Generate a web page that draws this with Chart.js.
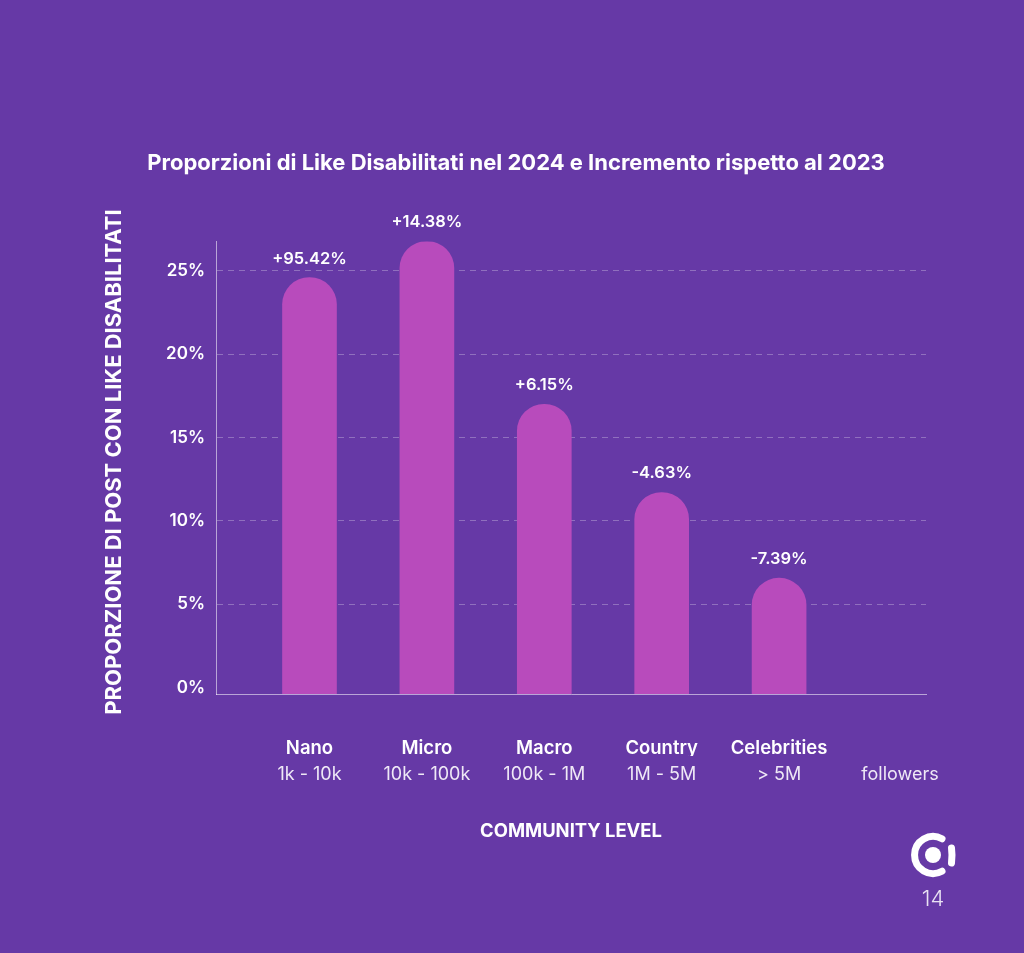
<!DOCTYPE html>
<html>
<head>
<meta charset="utf-8">
<script src="https://cdn.jsdelivr.net/npm/chart.js@4"></script>
<style>
  html, body { margin: 0; padding: 0; background: #6639a6; }
  #wrap { position: relative; width: 1024px; height: 953px; overflow: hidden; }
  canvas { position: absolute; left: 0; top: 0; }
  #logo { position: absolute; left: 900px; top: 825px; }
  #page { position: absolute; left: 903px; top: 885px; width: 60px; text-align: center; color: #e9e2f3; font: 300 22px Inter, sans-serif; }
</style>
</head>
<body>
<div id="wrap">
  <canvas id="chart" width="1024" height="953"></canvas>
  <svg id="logo" width="64" height="60" viewBox="900 825 64 60">
    <path d="M942 838.8 A18.5 18.5 0 1 0 942 871.2" fill="none" stroke="#fff" stroke-width="7" stroke-linecap="round"/>
    <path d="M951.5 848 Q952.5 855 951.5 863" fill="none" stroke="#fff" stroke-width="7" stroke-linecap="round"/>
    <circle cx="933" cy="855" r="8" fill="#fff"/>
  </svg>
  <div id="page">14</div>
</div>
<script>
const FONT = 'Inter, sans-serif';
const WHITE = '#ffffff', SOFT = '#efe9f6', BAR = '#b84bbc', LINE = 'rgba(255,255,255,0.55)', DASH = 'rgba(255,255,255,0.28)';

const levels = ['Nano', 'Micro', 'Macro', 'Country', 'Celebrities', ''];
const ranges = ['1k - 10k', '10k - 100k', '100k - 1M', '1M - 5M', '> 5M', 'followers'];
const shares = [24.6, 26.77, 17.0, 11.7, 6.56];
const changes = ['+95.42%', '+14.38%', '+6.15%', '-4.63%', '-7.39%'];
const yTicks = [0, 5, 10, 15, 20, 25];
const positions = [1, 2, 3, 4, 5];
const FOLLOWERS_TICK = 6.03; // libellé "followers", après la dernière barre
const Y_TITLE = 'PROPORZIONE DI POST CON LIKE DISABILITATI';

// valeurs au-dessus des barres + titre de l'axe Y (décalé par rapport au centre de l'axe)
const extraLabels = {
  id: 'extraLabels',
  afterDatasetsDraw(chart) {
    const { ctx } = chart;
    ctx.save();
    ctx.font = '600 16.5px ' + FONT;
    ctx.fillStyle = WHITE;
    ctx.textAlign = 'center';
    ctx.textBaseline = 'middle';
    chart.getDatasetMeta(0).data.forEach((bar, i) => ctx.fillText(changes[i], bar.x, bar.y - 19));
    ctx.font = '700 22px ' + FONT;
    ctx.translate(114, 462);
    ctx.rotate(-Math.PI / 2);
    ctx.fillText(Y_TITLE, 0, 0);
    ctx.restore();
  },
};

const xBase = {
  type: 'linear', position: 'bottom', min: 0.2036, max: 6.2514, offset: false,
  grid: { display: false },
  afterBuildTicks: (s) => { s.ticks = [...positions, FOLLOWERS_TICK].map((value) => ({ value })); },
};

new Chart(document.getElementById('chart'), {
  type: 'bar',
  data: {
    datasets: [{
      data: shares.map((y, i) => ({ x: positions[i], y })),
      base: -0.39,
      backgroundColor: BAR,
      barThickness: 54,
      borderRadius: { topLeft: 27, topRight: 27, bottomLeft: 0, bottomRight: 0 },
      borderSkipped: 'bottom',
    }],
  },
  plugins: [extraLabels],
  options: {
    responsive: false,
    animation: false,
    layout: { padding: { left: 106, right: 98, top: 0, bottom: 0 } },
    plugins: {
      legend: { display: false },
      tooltip: { enabled: false },
      title: {
        display: true,
        text: 'Proporzioni di Like Disabilitati nel 2024 e Incremento rispetto al 2023',
        color: WHITE,
        font: { family: FONT, size: 22, weight: '700' },
        padding: { top: 150, bottom: 65 },
      },
    },
    scales: {
      x: {
        ...xBase,
        afterFit: (s) => { s.height = 62; },
        border: { display: true, color: LINE, width: 1 },
        ticks: {
          color: WHITE, padding: 35, autoSkip: false, maxRotation: 0,
          font: { family: FONT, size: 18.5, weight: '600' },
          callback: (v, i) => levels[i],
        },
      },
      x2: {
        ...xBase,
        afterFit: (s) => { s.height = 197; },
        border: { display: false },
        ticks: {
          color: SOFT, padding: 0, autoSkip: false, maxRotation: 0,
          font: { family: FONT, size: 18, weight: '400' },
          callback: (v, i) => ranges[i],
        },
        title: {
          display: true, text: 'COMMUNITY LEVEL', color: WHITE,
          font: { family: FONT, size: 18.4, weight: '700' },
          padding: { top: 36, bottom: 110 },
        },
      },
      y: {
        min: -0.39, max: 26.77,
        afterBuildTicks: (s) => { s.ticks = yTicks.map((value) => ({ value })); },
        afterFit: (s) => { s.width = 110; },
        border: { display: true, color: LINE, width: 1, dash: [6, 5] },
        grid: {
          drawTicks: false,
          color: (c) => (c.tick && c.tick.value === 0 ? 'transparent' : DASH),
        },
        ticks: {
          color: WHITE, padding: 11,
          font: { family: FONT, size: 17, weight: '600' },
          callback: (v) => v + '%',
        },
      },
    },
  },
});
</script>
</body>
</html>
